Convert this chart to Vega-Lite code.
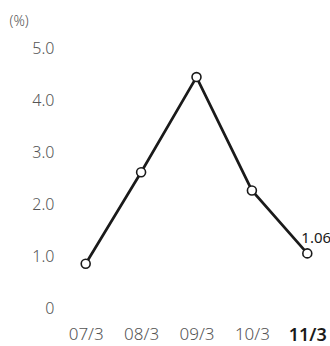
{
  "$schema": "https://vega.github.io/schema/vega-lite/v6.json",
  "autosize": {"type": "none"},
  "width": 277,
  "height": 260,
  "padding": {"left": 58, "top": 48.5, "right": 0, "bottom": 37.5},
  "background": "white",
  "config": {"view": {"stroke": null}, "font": "Noto Sans"},
  "data": {"values": [
    {"year": "07/3", "value": 0.86},
    {"year": "08/3", "value": 2.62},
    {"year": "09/3", "value": 4.45},
    {"year": "10/3", "value": 2.27},
    {"year": "11/3", "value": 1.06}
  ]},
  "encoding": {
    "x": {"field": "year", "type": "ordinal", "scale": {"type": "point", "padding": 0.5},
      "axis": {"title": null, "labelAngle": 0, "domain": false, "ticks": false, "labelPadding": 18,
        "labelFont": "Noto Sans",
        "labelFontSize": {"condition": {"test": "datum.value === '11/3'", "value": 18}, "value": 17},
        "labelFontWeight": {"condition": {"test": "datum.value === '11/3'", "value": 600}, "value": 300},
        "labelColor": {"condition": {"test": "datum.value === '11/3'", "value": "#1a1a1a"}, "value": "#555555"}}},
    "y": {"field": "value", "type": "quantitative", "scale": {"domain": [0, 5], "nice": false},
      "axis": {"title": "(%)", "titleAngle": 0, "titleX": -49, "titleY": -27.5, "titleAlign": "left", "titleBaseline": "middle",
        "titleFontWeight": 300, "titleFontSize": 14, "titleColor": "#555555",
        "values": [0, 1, 2, 3, 4, 5], "labelExpr": "datum.value === 0 ? '0' : format(datum.value, '.1f')",
        "grid": false, "domain": false, "ticks": false, "labelPadding": 4, "labelFontSize": 16, "labelFontWeight": 300, "labelColor": "#555555"}}
  },
  "layer": [
    {"mark": {"type": "line", "color": "#1a1a1a", "strokeWidth": 2.7}},
    {"mark": {"type": "point", "filled": true, "fill": "white", "stroke": "#1a1a1a", "strokeWidth": 1.6, "size": 80, "opacity": 1}},
    {"transform": [{"filter": "datum.year === '11/3'"}],
      "mark": {"type": "text", "align": "left", "dx": -6, "dy": -15, "fontSize": 15, "fontWeight": "normal", "color": "#1a1a1a"},
      "encoding": {"text": {"field": "value", "type": "quantitative", "format": ".2f"}}}
  ]
}
